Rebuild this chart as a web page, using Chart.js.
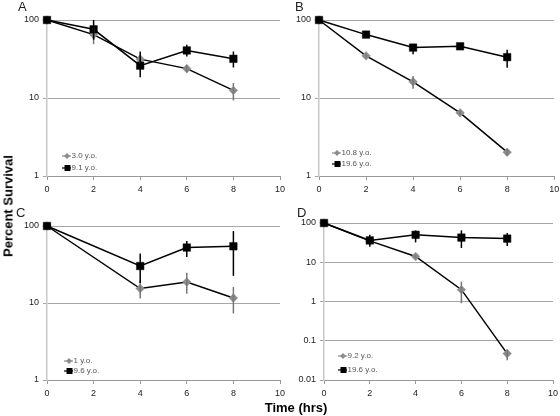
<!DOCTYPE html>
<html>
<head>
<meta charset="utf-8">
<script src="https://cdn.jsdelivr.net/npm/chart.js@4.4.1/dist/chart.umd.min.js"></script>
<style>
  html, body { margin: 0; padding: 0; background: #ffffff; }
  body { width: 560px; height: 416px; position: relative; overflow: hidden; font-family: "Liberation Sans", Arial, sans-serif; }
  canvas { position: absolute; }
  .ytitle { position: absolute; left: 8px; top: 206px; transform: translate(-50%, -50%) rotate(-90deg); font-weight: bold; font-size: 13px; color: #000; white-space: nowrap; }
  .xtitle { position: absolute; left: 296px; top: 407px; transform: translate(-50%, -50%); font-weight: bold; font-size: 13px; color: #000; white-space: nowrap; }
</style>
</head>
<body>
<canvas id="cA" width="290" height="200" style="left:0px;top:0px;width:290px;height:200px"></canvas>
<canvas id="cB" width="280" height="200" style="left:280px;top:0px;width:280px;height:200px"></canvas>
<canvas id="cC" width="290" height="204" style="left:0px;top:200px;width:290px;height:204px"></canvas>
<canvas id="cD" width="280" height="204" style="left:280px;top:200px;width:280px;height:204px"></canvas>
<div class="ytitle">Percent Survival</div>
<div class="xtitle">Time (hrs)</div>
<script>
// ---------------- DATA ----------------
const xTickLabels = [0, 2, 4, 6, 8, 10];

// Panel A
const timesA = [0, 2, 4, 6, 8];
const labelA1 = "3.0 y.o.";
const valuesA1 = [100, 65, 31.5, 23.8, 12.5];
const errMinusA1 = [0, 16, 4, 2.5, 3.2];
const errPlusA1 = [0, 15, 4, 2.5, 3.1];
const labelA2 = "9.1 y.o.";
const valuesA2 = [100, 76, 26, 40.7, 31.8];
const errMinusA2 = [0, 20, 7.6, 6.7, 7.2];
const errPlusA2 = [0, 24, 13.5, 7.3, 7.7];

// Panel B
const timesB = [0, 2, 4, 6, 8];
const labelB1 = "10.8 y.o.";
const valuesB1 = [100, 34.7, 16.1, 6.45, 2.02];
const errMinusB1 = [0, 1.5, 3, 0.4, 0.2];
const errPlusB1 = [0, 1.5, 3, 0.4, 0.2];
const labelB2 = "19.6 y.o.";
const valuesB2 = [100, 65, 44.3, 46, 33.4];
const errMinusB2 = [0, 3, 8, 3, 8.9];
const errPlusB2 = [0, 3, 5, 3, 8];

// Panel C
const timesC = [0, 4, 6, 8];
const labelC1 = "1 y.o.";
const valuesC1 = [100, 15.4, 18.7, 11.6];
const errMinusC1 = [0, 4, 5.5, 4.3];
const errPlusC1 = [0, 4.2, 6.1, 4.5];
const labelC2 = "9.6 y.o.";
const valuesC2 = [100, 30.2, 52.5, 54.5];
const errMinusC2 = [0, 12, 13, 32];
const errPlusC2 = [0, 13.6, 11.3, 31.5];

// Panel D
const timesD = [0, 2, 4, 6, 8];
const labelD1 = "9.2 y.o.";
const valuesD1 = [100, 35, 14, 2.0, 0.047];
const errMinusD1 = [0, 0, 1, 1.1, 0.015];
const errPlusD1 = [0, 0, 1, 1.2, 0.013];
const labelD2 = "19.6 y.o.";
const valuesD2 = [100, 36, 50, 42.5, 40];
const errMinusD2 = [0, 11, 18, 19.5, 14];
const errPlusD2 = [0, 14, 15, 22.5, 15.6];

const yTicksABC = [1, 10, 100];
const yTicksD = [0.01, 0.1, 1, 10, 100];

// ---------------- STYLE ----------------
const GRAY = "#8c8c8c";
const BLACK = "#000000";
const FONT = "'Liberation Sans', Arial, sans-serif";

const errorBarPlugin = {
  id: 'errorBars',
  afterDatasetsDraw(chart) {
    const ctx = chart.ctx;
    const ys = chart.scales.y, xs = chart.scales.x;
    chart.data.datasets.forEach((ds, di) => {
      ctx.save();
      ctx.strokeStyle = ds.errColor;
      ctx.lineWidth = 1.5;
      ds.data.forEach((pt, i) => {
        const lo = pt.y - ds.errMinus[i];
        const hi = pt.y + ds.errPlus[i];
        if (ds.errMinus[i] === 0 && ds.errPlus[i] === 0) return;
        const px = xs.getPixelForValue(pt.x);
        const py1 = ys.getPixelForValue(Math.max(lo, ys.min));
        const py2 = ys.getPixelForValue(hi);
        ctx.beginPath();
        ctx.moveTo(px, py1);
        ctx.lineTo(px, py2);
        ctx.stroke();
      });
      ctx.restore();
    });
  }
};

const decorPlugin = {
  id: 'decor',
  afterDraw(chart) {
    const o = chart.options.plugins.decor;
    const ctx = chart.ctx;
    const ca = chart.chartArea;
    ctx.save();
    // panel letter
    ctx.fillStyle = "#222";
    ctx.font = "13px " + FONT;
    ctx.textBaseline = "top";
    ctx.textAlign = "left";
    ctx.fillText(o.letter, o.letterX, o.letterY);
    // legend
    ctx.font = "8px " + FONT;
    ctx.textBaseline = "middle";
    chart.data.datasets.forEach((ds, i) => {
      const y = ca.bottom - o.legBottom + i * o.legGap;
      const x0 = ca.left + o.legLeft;
      ctx.strokeStyle = ds.legLine;
      ctx.lineWidth = 1.2;
      ctx.beginPath();
      ctx.moveTo(x0, y);
      ctx.lineTo(x0 + 9, y);
      ctx.stroke();
      ctx.fillStyle = ds.pointBackgroundColor;
      ctx.beginPath();
      if (ds.pointStyle === 'rectRot') {
        ctx.moveTo(x0 + 5, y - 3); ctx.lineTo(x0 + 8, y); ctx.lineTo(x0 + 5, y + 3); ctx.lineTo(x0 + 2, y);
      } else {
        ctx.rect(x0 + 2.5, y - 3, 6, 6);
      }
      ctx.closePath();
      ctx.fill();
      ctx.fillStyle = "#555";
      ctx.fillText(ds.label, x0 + 9.5, y);
    });
    ctx.restore();
  }
};

function mkDataset(label, times, vals, em, ep, style) {
  const isGray = style === 'gray';
  return {
    label: label,
    data: times.map((t, i) => ({ x: t, y: vals[i] })),
    errMinus: em,
    errPlus: ep,
    errColor: isGray ? "#777777" : BLACK,
    legLine: isGray ? GRAY : BLACK,
    borderColor: BLACK,
    borderWidth: 1.5,
    pointStyle: isGray ? 'rectRot' : 'rect',
    pointRadius: isGray ? 4.3 : 5.3,
    pointBackgroundColor: isGray ? GRAY : BLACK,
    pointBorderColor: isGray ? GRAY : BLACK,
    pointBorderWidth: 0.5,
    tension: 0,
    fill: false,
    showLine: true,
    clip: false,
    order: isGray ? 1 : 0
  };
}

function makePanel(id, datasets, yMin, yMax, yTicks, yWidth, pad, letter, lx, ly, legLeft, legBottom, legGap) {
  new Chart(document.getElementById(id), {
    type: 'scatter',
    data: { datasets: datasets },
    options: {
      responsive: false,
      animation: false,
      events: [],
      layout: { padding: pad },
      plugins: {
        legend: { display: false },
        tooltip: { enabled: false },
        decor: { letter: letter, letterX: lx, letterY: ly, legLeft: legLeft, legBottom: legBottom, legGap: legGap }
      },
      scales: {
        x: {
          type: 'linear',
          min: 0, max: 10,
          afterBuildTicks: (s) => { s.ticks = xTickLabels.map(v => ({ value: v })); },
          afterFit: (s) => { s.height = 24; s.paddingLeft = 0; s.paddingRight = 0; },
          grid: { drawOnChartArea: false, drawTicks: true, tickLength: 4, color: "#999999", lineWidth: 1 },
          border: { display: true, color: "#999999", width: 1 },
          ticks: { font: { family: FONT, size: 9 }, color: "#222", padding: 4, maxRotation: 0, autoSkip: false }
        },
        y: {
          type: 'logarithmic',
          min: yMin, max: yMax,
          afterBuildTicks: (s) => { s.ticks = yTicks.map(v => ({ value: v })); },
          afterFit: (s) => { s.width = yWidth; s.paddingTop = 0; s.paddingBottom = 0; },
          grid: { drawOnChartArea: true, drawTicks: true, tickLength: 4, color: "#a6a6a6", lineWidth: 1 },
          border: { display: true, color: "#c8c8c8", width: 1.5 },
          ticks: {
            font: { family: FONT, size: 9 }, color: "#222", padding: 4, autoSkip: false,
            callback: (v) => String(v)
          }
        }
      }
    },
    plugins: [errorBarPlugin, decorPlugin]
  });
}

makePanel('cA', [
  mkDataset(labelA1, timesA, valuesA1, errMinusA1, errPlusA1, 'gray'),
  mkDataset(labelA2, timesA, valuesA2, errMinusA2, errPlusA2, 'black')
], 1, 100, yTicksABC, 47, { left: 0, right: 10, top: 20, bottom: 0 }, "A", 18, 1, 15, 20, 12);

makePanel('cB', [
  mkDataset(labelB1, timesB, valuesB1, errMinusB1, errPlusB1, 'gray'),
  mkDataset(labelB2, timesB, valuesB2, errMinusB2, errPlusB2, 'black')
], 1, 100, yTicksABC, 39, { left: 0, right: 5, top: 20, bottom: 0 }, "B", 15, 1, 13, 23, 11);

makePanel('cC', [
  mkDataset(labelC1, timesC, valuesC1, errMinusC1, errPlusC1, 'gray'),
  mkDataset(labelC2, timesC, valuesC2, errMinusC2, errPlusC2, 'black')
], 1, 100, yTicksABC, 47, { left: 0, right: 10, top: 26, bottom: 0 }, "C", 16, 7, 17, 19, 10);

makePanel('cD', [
  mkDataset(labelD1, timesD, valuesD1, errMinusD1, errPlusD1, 'gray'),
  mkDataset(labelD2, timesD, valuesD2, errMinusD2, errPlusD2, 'black')
], 0.01, 100, yTicksD, 44, { left: 0, right: 7, top: 23, bottom: 0 }, "D", 17, 7, 14, 24, 14);
</script>
</body>
</html>
